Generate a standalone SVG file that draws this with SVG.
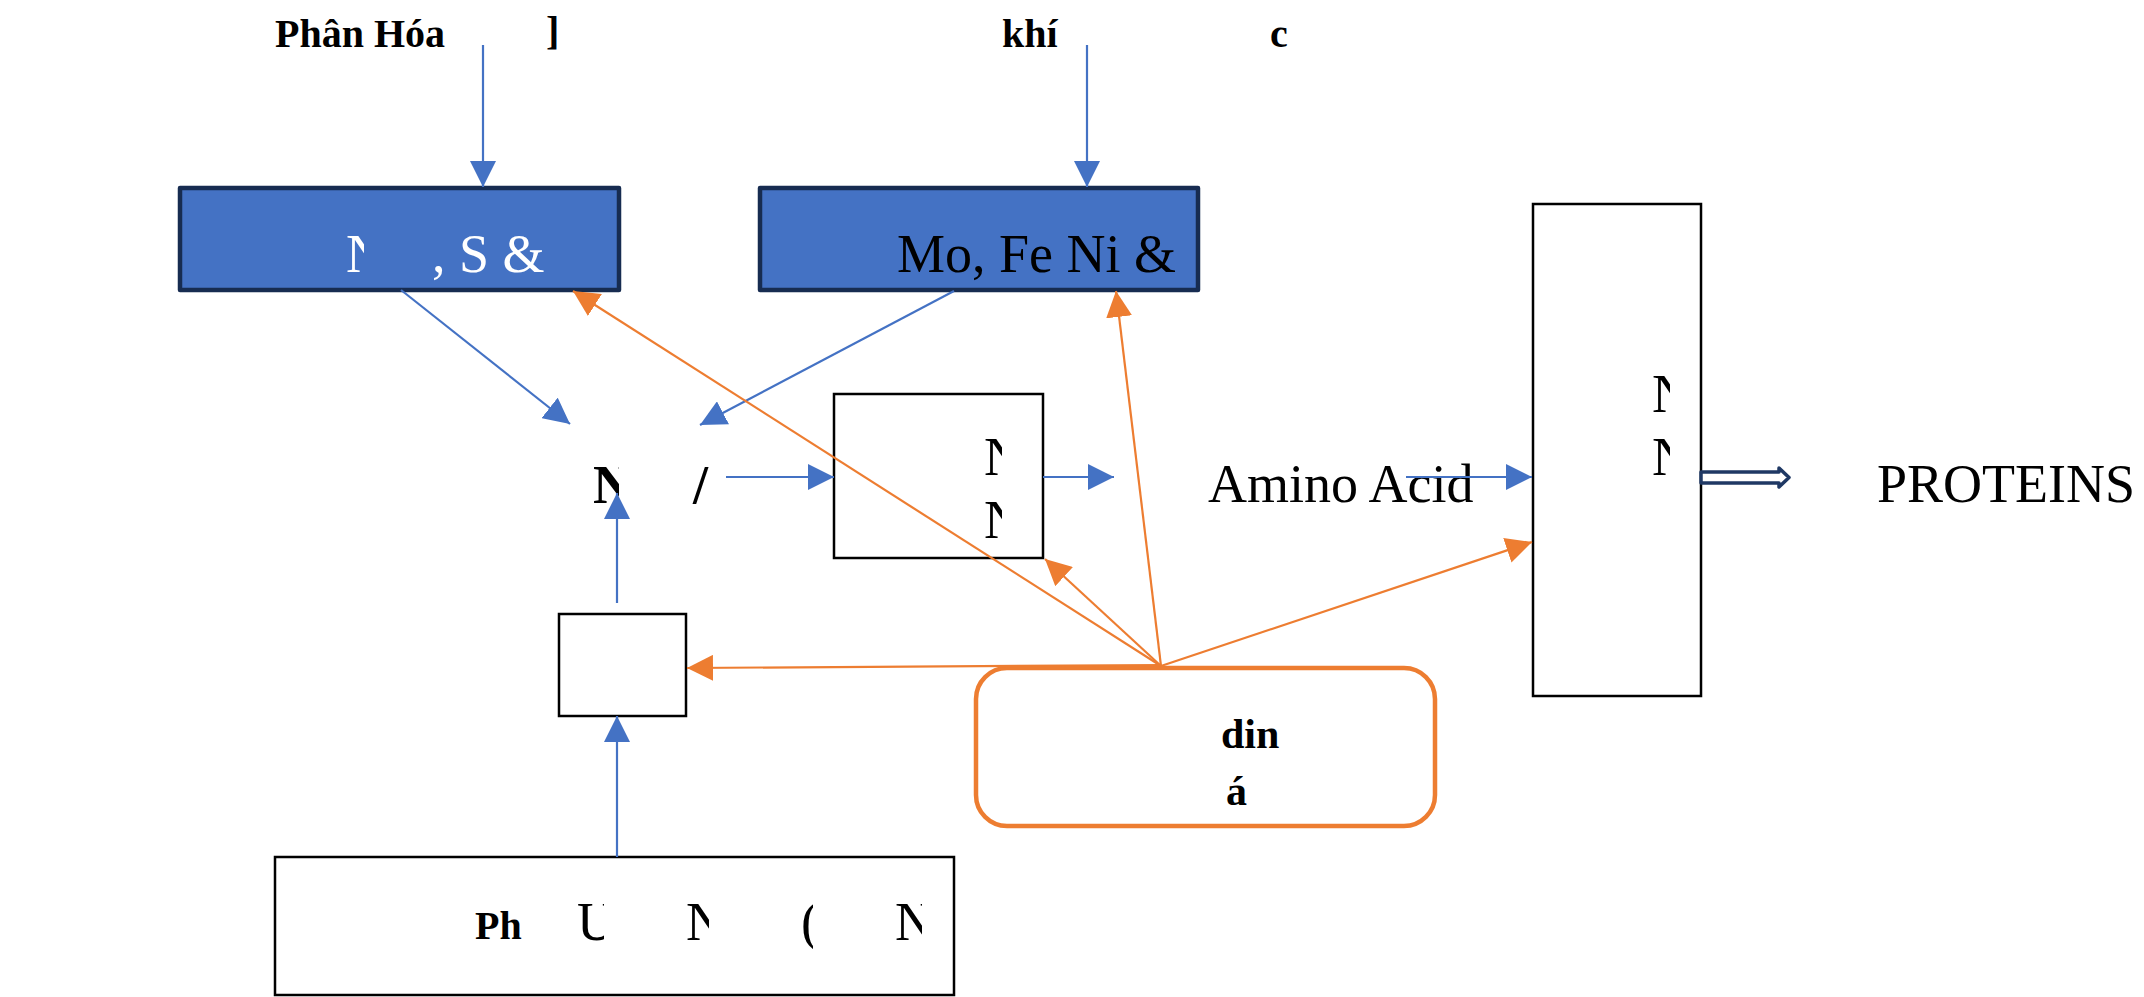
<svg xmlns="http://www.w3.org/2000/svg" width="2144" height="997" viewBox="0 0 2144 997">
<style>
  .serif { font-family: "Liberation Serif", "Times New Roman", serif; }
  .b { font-weight: bold; }
  .t40 { font-size: 40px; }
  .t54 { font-size: 54px; }
  .blueBox { fill: #4472C4; stroke: #172C51; stroke-width: 4.5; stroke-linejoin: round; }
  .plain { fill: #FFFFFF; stroke: #000000; stroke-width: 2.5; }
  .orangeBox { fill: #FFFFFF; stroke: #ED7D31; stroke-width: 4.5; }
  .blue { stroke: #4472C4; stroke-width: 2.2; fill: none; marker-end: url(#ab); }
  .orange { stroke: #ED7D31; stroke-width: 2.2; fill: none; marker-end: url(#ao); }
</style>
<defs>
  <marker id="ab" markerUnits="userSpaceOnUse" markerWidth="26" markerHeight="26" viewBox="0 0 26 26" refX="26" refY="13" orient="auto">
    <path d="M0,0 L26,13 L0,26 Z" fill="#4472C4"/>
  </marker>
  <marker id="ao" markerUnits="userSpaceOnUse" markerWidth="26" markerHeight="26" viewBox="0 0 26 26" refX="26" refY="13" orient="auto">
    <path d="M0,0 L26,13 L0,26 Z" fill="#ED7D31"/>
  </marker>
  <clipPath id="c1"><rect x="300" y="200" width="64" height="90"/></clipPath>
  <clipPath id="c2"><rect x="580" y="440" width="39" height="80"/></clipPath>
  <clipPath id="c3"><rect x="960" y="420" width="42" height="130"/></clipPath>
  <clipPath id="c4"><rect x="1630" y="360" width="40" height="130"/></clipPath>
  <clipPath id="c5"><rect x="560" y="890" width="44" height="70"/></clipPath>
  <clipPath id="c6"><rect x="670" y="890" width="39" height="70"/></clipPath>
  <clipPath id="c7"><rect x="790" y="890" width="23" height="70"/></clipPath>
  <clipPath id="c8"><rect x="880" y="890" width="42" height="70"/></clipPath>
</defs>
<rect width="2144" height="997" fill="#FFFFFF"/>

<g id="label-phan-hoa">
  <text class="serif b t40" x="275" y="47">Phân Hóa</text>
  <text class="serif b t40" x="546" y="44">]</text>
</g>
<g id="label-khi">
  <text class="serif b t40" x="1002" y="47">khí</text>
  <text class="serif b t40" x="1270" y="47">c</text>
</g>

<g id="node-box1">
  <rect class="blueBox" x="180" y="188" width="439" height="102"/>
  <text class="serif t54" x="346" y="272" fill="#FFFFFF" clip-path="url(#c1)">N</text>
  <text class="serif t54" x="432" y="272" fill="#FFFFFF">, S &amp;</text>
</g>
<g id="node-box2">
  <rect class="blueBox" x="760" y="188" width="438" height="102"/>
  <text class="serif t54" x="897" y="272" fill="#000000">Mo, Fe Ni &amp;</text>
</g>

<g id="node-n">
  <text class="serif b t54" x="593" y="503" clip-path="url(#c2)">N</text>
  <text class="serif b t54" x="693" y="503">/</text>
</g>

<g id="node-box3">
  <rect class="plain" x="834" y="394" width="209" height="164"/>
  <text class="serif t54" x="984" y="475" clip-path="url(#c3)">N</text>
  <text class="serif t54" x="984" y="538" clip-path="url(#c3)">N</text>
</g>

<g id="node-amino">
  <text class="serif t54" x="1208" y="502">Amino Acid</text>
</g>

<g id="node-box4">
  <rect class="plain" x="1533" y="204" width="168" height="492"/>
  <text class="serif t54" x="1652" y="412" clip-path="url(#c4)">N</text>
  <text class="serif t54" x="1652" y="475" clip-path="url(#c4)">N</text>
</g>

<g id="node-proteins">
  <text class="serif t54" x="1877" y="502">PROTEINS</text>
</g>

<g id="node-box5">
  <rect class="plain" x="559" y="614" width="127" height="102"/>
</g>

<g id="node-box6">
  <rect class="plain" x="275" y="857" width="679" height="138"/>
  <text class="serif b t40" x="475" y="939">Ph</text>
  <text class="serif t54" x="577" y="940" clip-path="url(#c5)">U</text>
  <text class="serif t54" x="686" y="940" clip-path="url(#c6)">N</text>
  <text class="serif t54" x="801" y="940" clip-path="url(#c7)">(</text>
  <text class="serif t54" x="895" y="940" clip-path="url(#c8)">N</text>
</g>

<g id="node-orange">
  <rect class="orangeBox" x="976" y="668" width="459" height="158" rx="31" ry="31"/>
  <text class="serif b" font-size="42" x="1221" y="748">din</text>
  <text class="serif b" font-size="42" x="1226" y="805">á</text>
</g>

<g id="connectors">
  <line class="blue" x1="483" y1="45" x2="483" y2="187"/>
  <line class="blue" x1="1087" y1="45" x2="1087" y2="187"/>
  <line class="blue" x1="401" y1="290" x2="570" y2="424"/>
  <line class="blue" x1="954" y1="291" x2="700" y2="425"/>
  <line class="blue" x1="726" y1="477" x2="834" y2="477"/>
  <line class="blue" x1="1043" y1="477" x2="1114" y2="477"/>
  <line class="blue" x1="1406" y1="477" x2="1532" y2="477"/>
  <line class="blue" x1="617" y1="603" x2="617" y2="493"/>
  <line class="blue" x1="617" y1="857" x2="617" y2="716"/>
  <line class="orange" x1="1161" y1="666" x2="573" y2="291"/>
  <line class="orange" x1="1161" y1="666" x2="1116" y2="291"/>
  <line class="orange" x1="1161" y1="666" x2="1045" y2="559"/>
  <line class="orange" x1="1161" y1="666" x2="1532" y2="542"/>
  <line class="orange" x1="1161" y1="665" x2="687" y2="668"/>
  <path d="M1701,472 H1779 V468 L1789,477.5 L1779,487 V483 H1701 Z" fill="#FFFFFF" stroke="#1F3864" stroke-width="3.5" stroke-linejoin="round"/>
</g>
</svg>
